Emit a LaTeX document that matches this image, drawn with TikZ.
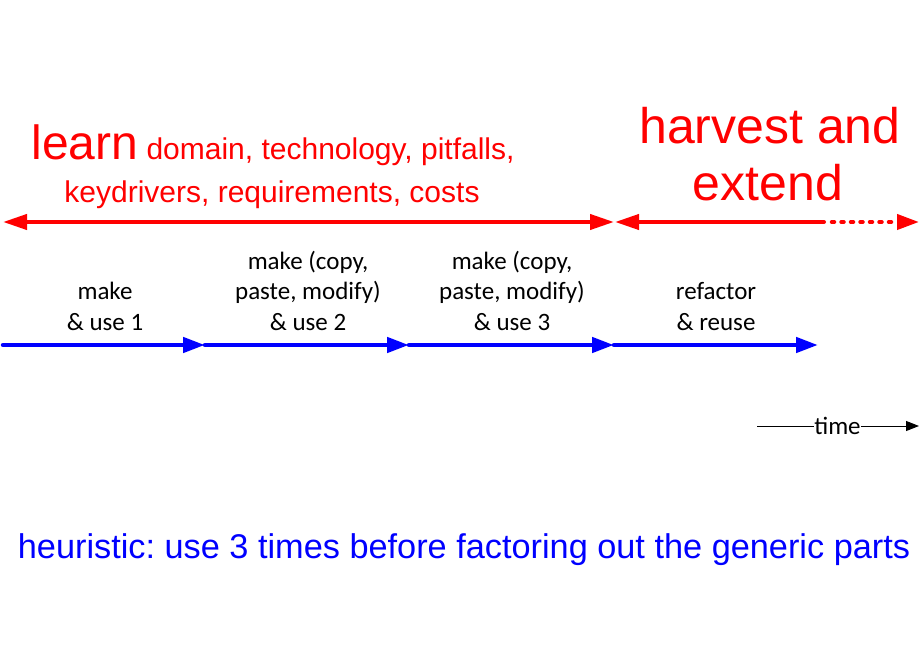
\documentclass[tikz,border=0pt]{standalone}
\usepackage{fontspec}
\setmainfont{Liberation Sans}
\newfontfamily\calfont{Carlito}
\usetikzlibrary{arrows.meta}
\definecolor{pred}{RGB}{255,0,0}
\definecolor{pblue}{RGB}{0,0,255}
\frenchspacing
\tikzset{
  redtxt/.style={text=pred, inner sep=0pt, anchor=base},
  lbl/.style={font=\calfont\fontsize{25}{30.5}\selectfont, align=center, inner sep=0pt, anchor=base},
  redarrow/.style={draw=pred, line width=4pt, line cap=round},
  bluearrow/.style={draw=pblue, line width=4.5pt, line cap=round, -{Triangle[length=22pt,width=15pt]}},
  redhead/.tip={Triangle[length=24pt,width=15pt]},
  redheadsmall/.tip={Triangle[length=22pt,width=15pt]}
}
\begin{document}
\begin{tikzpicture}[x=1pt,y=-1pt]
\useasboundingbox (0,0) rectangle (920,660);
% red titles
\node[redtxt] (learnA) at (273,160) {\fontsize{48}{55}\selectfont learn\fontsize{30}{36}\selectfont\ domain, technology, pitfalls,};
\node[redtxt] (learnB) at (272,203) {\fontsize{30}{36}\selectfont keydrivers, requirements, costs};
\node[redtxt] (harvA) at (770,144) {\fontsize{50}{57}\selectfont harvest and};
\node[redtxt] (harvB) at (768,201) {\fontsize{50}{57}\selectfont extend};
% red arrows
\coordinate (r0) at (3,222);
\coordinate (r1) at (614,222);
\coordinate (r2) at (615,222);
\coordinate (r3) at (824,222);
\coordinate (r3d) at (831.75,222);
\coordinate (r4) at (919,222);
\draw[redarrow, redhead-redhead] (r0) -- (r1);
\draw[redarrow, redhead-] (r2) -- (r3);
\draw[redarrow, dash pattern=on 2.5pt off 7pt, -redheadsmall] (r3d) -- (r4);
% blue arrows
\coordinate (b0) at (3,345);
\coordinate (b1) at (205,345);
\coordinate (b2) at (409,345);
\coordinate (b3) at (614,345);
\coordinate (b4) at (818,345);
\draw[bluearrow] (b0) -- (b1);
\draw[bluearrow] (b1) -- (b2);
\draw[bluearrow] (b2) -- (b3);
\draw[bluearrow] (b3) -- (b4);
% labels (base = last line)
\node[lbl] (lab1) at (105,330) {make\\\& use 1};
\node[lbl] (lab2) at (308,330) {make (copy,\\paste, modify)\\\& use 2};
\node[lbl] (lab3) at (512,330) {make (copy,\\paste, modify)\\\& use 3};
\node[lbl] (lab4) at (716,330) {refactor\\\& reuse};
% time axis
\node[font=\calfont\fontsize{25}{30}\selectfont, inner sep=0pt] (time) at (837.5,426) {time};
\coordinate (t0) at (757,426);
\coordinate (t1) at (919,426);
\draw[line width=1pt] (t0) -- (time.west);
\draw[line width=1pt, -{Triangle[length=13pt,width=10pt]}] (time.east) -- (t1);
% heuristic
\node[text=pblue, inner sep=0pt, anchor=base, font=\fontsize{34.3}{40}\selectfont] (heur) at (464,558) {heuristic: use 3 times before factoring out the generic parts};
\end{tikzpicture}
\end{document}
